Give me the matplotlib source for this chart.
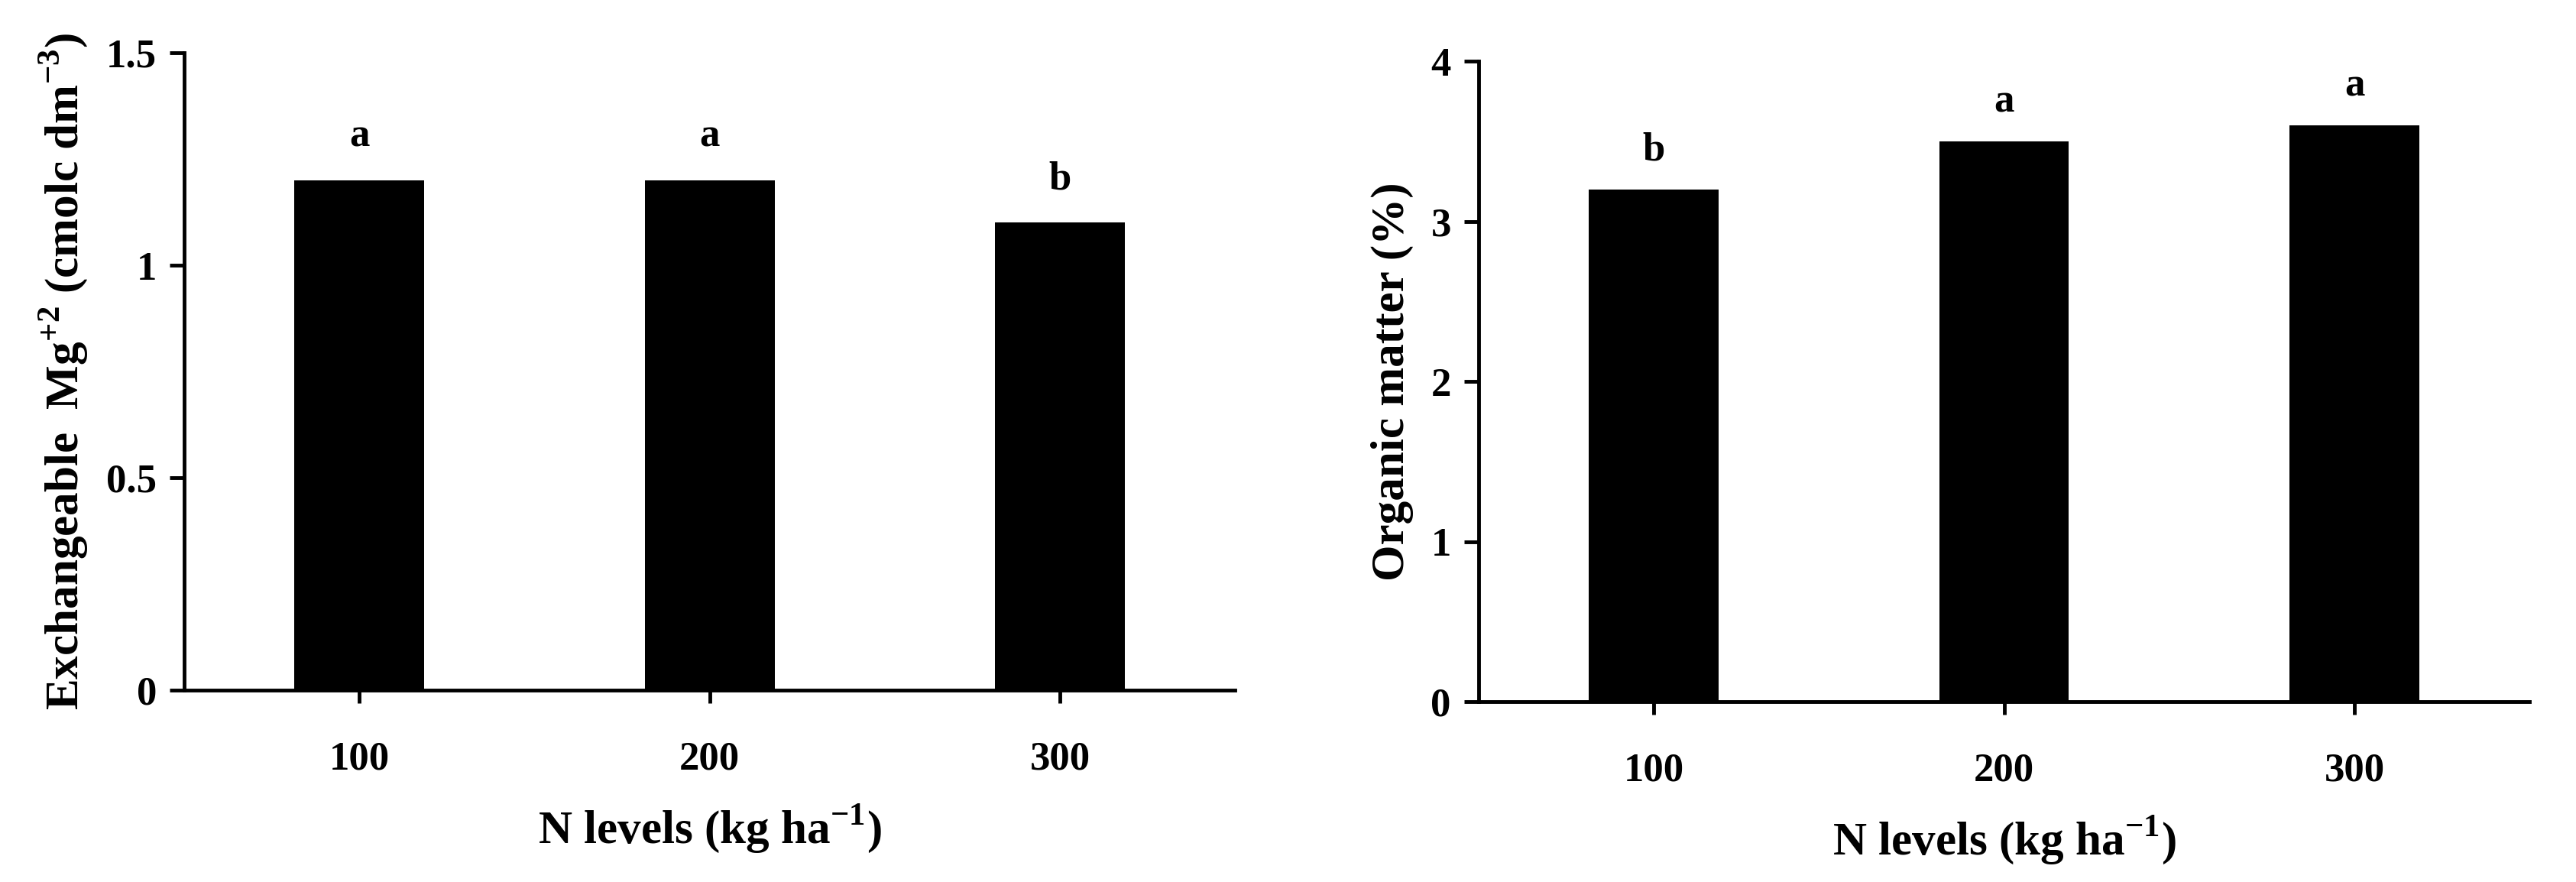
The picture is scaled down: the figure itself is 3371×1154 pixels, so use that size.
import numpy as np
import matplotlib.pyplot as plt
import matplotlib

matplotlib.rcParams['font.family'] = 'Liberation Serif'
matplotlib.rcParams['font.weight'] = 'bold'
matplotlib.rcParams['mathtext.fontset'] = 'custom'
matplotlib.rcParams['mathtext.bf'] = 'Liberation Serif:bold'

n_levels = ['100', '200', '300']
mg_values = [1.2, 1.2, 1.1]
mg_letters = ['a', 'a', 'b']
om_values = [3.2, 3.5, 3.6]
om_letters = ['b', 'a', 'a']

fig = plt.figure(figsize=(33.71, 11.54), dpi=100)
ax1 = fig.add_axes([0.0715, 0.2175, 0.408, 0.7227])
ax2 = fig.add_axes([0.574, 0.2045, 0.408, 0.726])


def draw(ax, values, letters, ymax, step, ylabel, offset):
    x = np.arange(len(values))
    ax.bar(x, values, width=0.37, color='black')
    for i, v in enumerate(values):
        ax.text(i, v + offset, letters[i], ha='center', va='bottom', fontsize=38, fontweight='bold')
    ax.set_xlim(-0.5, 2.5)
    ax.set_ylim(0, ymax)
    yt = np.arange(0, ymax + step / 2, step)
    ax.set_yticks(yt)
    ax.set_yticklabels(['{:g}'.format(t) for t in yt])
    ax.set_xticks(x)
    ax.set_xticklabels(n_levels)
    ax.spines['top'].set_visible(False)
    ax.spines['right'].set_visible(False)
    for s in ['left', 'bottom']:
        ax.spines[s].set_linewidth(3.5)
    ax.tick_params(axis='y', direction='out', length=14, width=3.5, labelsize=38, pad=12)
    ax.tick_params(axis='x', direction='out', length=12, width=3.5, labelsize=38, pad=36)
    ax.set_xlabel('N levels (kg ha$^{\\mathbf{-1}}$)', fontsize=44, fontweight='bold', labelpad=24)
    ax.set_ylabel(ylabel, fontsize=44, fontweight='bold', labelpad=16)


draw(ax1, mg_values, mg_letters, 1.5, 0.5,
     'Exchangeable  Mg$^{\\mathbf{+2}}$ (cmolc dm$^{\\mathbf{-3}}$)', 0.06)
draw(ax2, om_values, om_letters, 4, 1, 'Organic matter (%)', 0.13)

fig.savefig('out.png', dpi=100)
